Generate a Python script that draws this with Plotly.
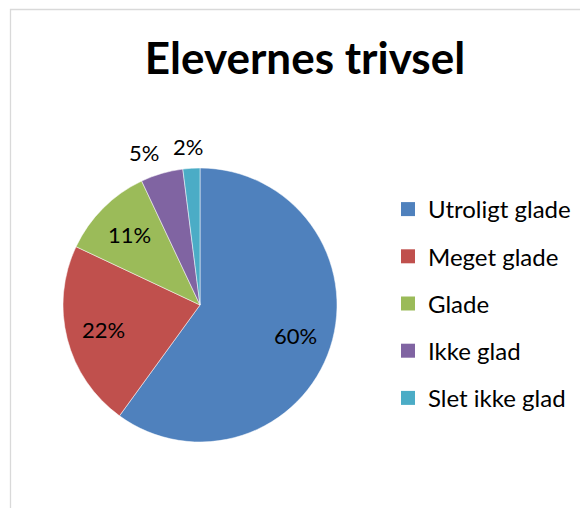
"""Pie chart: Elevernes trivsel."""

import math

import plotly.graph_objects as go

categories = ["Utroligt glade", "Meget glade", "Glade", "Ikke glad", "Slet ikke glad"]
shares = [60, 22, 11, 5, 2]
colors = ["#4F81BD", "#C0504D", "#9BBB59", "#8064A2", "#4BACC6"]
label_inside = [True, True, True, False, False]

W, H = 580, 500
FONT = "Lato"
LABEL_SIZE = 22

# pie placement in pixels (figure coords)
cx, cy, r = 192, 297, 137

fig = go.Figure()
fig.add_trace(go.Pie(
    labels=categories,
    values=shares,
    sort=False,
    direction="clockwise",
    rotation=0,
    marker=dict(colors=colors, line=dict(color="white", width=0.5)),
    textinfo="none",
    showlegend=False,
    domain=dict(x=[(cx - r) / W, (cx + r) / W], y=[1 - (cy + r) / H, 1 - (cy - r) / H]),
    hoverinfo="label+percent",
))

# percentage labels, Excel-style: inside at ~0.73r, thin slices just outside the rim
total = sum(shares)
cum = 0
for v, inside in zip(shares, label_inside):
    a = (cum + v / 2) / total * 2 * math.pi
    cum += v
    if inside:
        rr, xs, ys = 0.73 * r, 0, 0
    else:
        rr, xs, ys = r + 12, 50 * math.sin(a), 10 * math.cos(a)
    fig.add_annotation(
        x=(cx + rr * math.sin(a)) / W, y=1 - (cy - rr * math.cos(a)) / H,
        xref="paper", yref="paper", xanchor="center", yanchor="middle",
        xshift=xs, yshift=ys,
        text=f"{round(v / total * 100)}%", showarrow=False,
        font=dict(family=FONT, size=LABEL_SIZE, color="black"),
    )

# legend entries (square swatches) with Excel-like spacing
for i, (name, col) in enumerate(zip(categories, colors)):
    fig.add_trace(go.Scatter(
        x=[None], y=[None], mode="markers", name=name,
        legendgroup=f"g{i}",
        marker=dict(symbol="square", size=14, color=col),
    ))

fig.add_shape(
    type="rect", xref="paper", yref="paper",
    x0=2.5 / W, x1=1.2, y0=-0.2, y1=1 - 1.5 / H,
    line=dict(color="#d9d9d9", width=1.3), fillcolor="rgba(0,0,0,0)",
)

fig.update_layout(
    width=W, height=H,
    margin=dict(l=0, r=0, t=0, b=0),
    paper_bgcolor="white",
    plot_bgcolor="white",
    xaxis=dict(visible=False),
    yaxis=dict(visible=False),
    title=dict(
        text="<b>Elevernes trivsel</b>",
        x=297 / W, xanchor="center",
        y=1 - 51 / H, yanchor="middle",
        font=dict(family=FONT, size=44, color="black"),
    ),
    legend=dict(
        x=380 / W, xanchor="left",
        y=1 - 179 / H, yanchor="top",
        font=dict(family=FONT, size=24, color="black"),
        tracegroupgap=13,
        bgcolor="rgba(0,0,0,0)",
    ),
)

fig.write_html("out.html")
